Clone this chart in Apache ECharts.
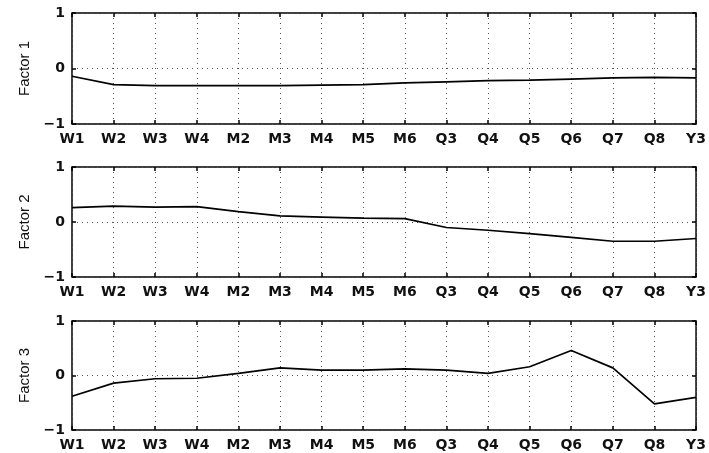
<!DOCTYPE html>
<html>
<head>
<meta charset="utf-8">
<script src="https://cdn.jsdelivr.net/npm/echarts@6/dist/echarts.min.js"></script>
<style>html,body{margin:0;padding:0;background:#fff}#c{width:709px;height:453px}</style>
</head>
<body>
<div id="c"></div>
<script>
var categories = ['W1','W2','W3','W4','M2','M3','M4','M5','M6','Q3','Q4','Q5','Q6','Q7','Q8','Y3'];
var factor1 = [-0.14,-0.29,-0.31,-0.31,-0.31,-0.31,-0.30,-0.29,-0.26,-0.24,-0.22,-0.21,-0.19,-0.17,-0.16,-0.17];
var factor2 = [0.26,0.29,0.27,0.28,0.19,0.11,0.09,0.07,0.06,-0.10,-0.15,-0.21,-0.28,-0.35,-0.35,-0.30];
var factor3 = [-0.38,-0.14,-0.06,-0.05,0.04,0.14,0.10,0.10,0.12,0.10,0.04,0.16,0.46,0.14,-0.52,-0.40];
var yTicks = [-1, 0, 1];
var names = ['Factor 1','Factor 2','Factor 3'];
var seriesData = [factor1, factor2, factor3];

var font = '"DejaVu Sans", "Liberation Sans", Arial, sans-serif';
var nameFont = '"Liberation Sans", Arial, sans-serif';
var tops = [13, 167, 321];
var heights = [111, 110, 109];
var grids = [], xAxes = [], yAxes = [], series = [];
tops.forEach(function(t, i){
  grids.push({left:72, right:11, top:t, height:heights[i], show:true, borderColor:'#000', borderWidth:1.5, backgroundColor:'transparent'});
  xAxes.push({type:'category', gridIndex:i, data:categories, boundaryGap:false, position:'bottom',
    axisLine:{show:false, onZero:false}, axisTick:{show:true, inside:true, length:4, interval:0, lineStyle:{color:'#000', width:1.5}},
    axisLabel:{color:'#111', fontFamily:font, fontSize:14, fontWeight:'bold', margin:8, interval:0},
    splitLine:{show:true, interval:0, lineStyle:{color:'#555', type:[1,4], width:1}}});
  xAxes.push({type:'category', gridIndex:i, data:categories, boundaryGap:false, position:'top',
    axisLine:{show:false, onZero:false}, axisTick:{show:true, inside:true, length:4, interval:0, lineStyle:{color:'#000', width:1.5}},
    axisLabel:{show:false}, splitLine:{show:false}});
  yAxes.push({type:'value', gridIndex:i, min:yTicks[0], max:yTicks[yTicks.length-1], interval:1, position:'left',
    name:names[i], nameLocation:'middle', nameGap:40, nameRotate:90,
    nameTextStyle:{color:'#111', fontFamily:nameFont, fontSize:15},
    axisLine:{show:false, onZero:false}, axisTick:{show:true, inside:true, length:4, lineStyle:{color:'#000', width:1.5}},
    axisLabel:{color:'#111', fontFamily:font, fontSize:14, fontWeight:'bold', margin:7,
      formatter:function(v){ return yTicks.indexOf(v) >= 0 ? (v < 0 ? '\u2212' + Math.abs(v) : String(v)) : ''; }},
    splitLine:{show:true, lineStyle:{color:'#555', type:[1,4], width:1}}});
  yAxes.push({type:'value', gridIndex:i, min:-1, max:1, interval:1, position:'right',
    axisLine:{show:false, onZero:false}, axisTick:{show:true, inside:true, length:4, lineStyle:{color:'#000', width:1.5}},
    axisLabel:{show:false}, splitLine:{show:false}});
  series.push({type:'line', xAxisIndex:i*2, yAxisIndex:i*2, data:seriesData[i], symbol:'none',
    lineStyle:{color:'#000', width:1.7}, silent:true, animation:false});
});

var chart = echarts.init(document.getElementById('c'), null, {renderer:'canvas'});
chart.setOption({animation:false, grid:grids, xAxis:xAxes, yAxis:yAxes, series:series});
</script>
</body>
</html>
